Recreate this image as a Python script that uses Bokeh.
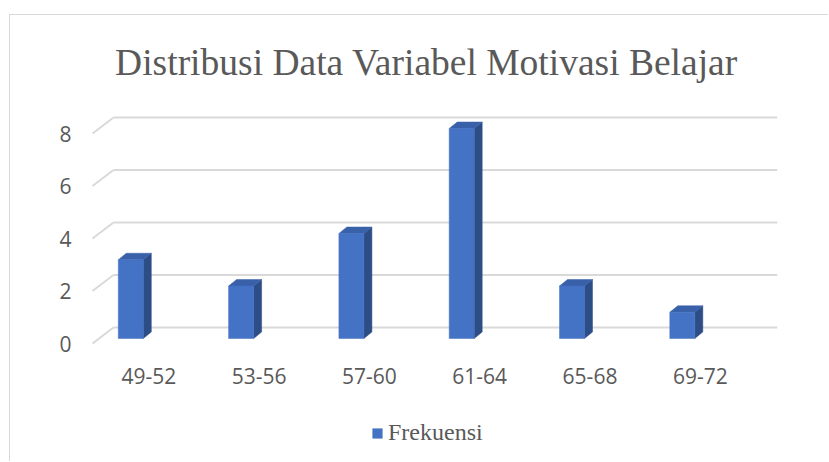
from bokeh.plotting import figure
from bokeh.models import (Range1d, LinearAxis, FixedTicker, Legend, LegendItem)
from bokeh.embed import file_html
from bokeh.resources import INLINE

# ---- data ----
categories = ["49-52", "53-56", "57-60", "61-64", "65-68", "69-72"]
frekuensi = [3, 2, 4, 8, 2, 1]
y_ticks = [0, 2, 4, 6, 8]
title_text = "Distribusi Data Variabel Motivasi Belajar"
series_name = "Frekuensi"

# ---- style constants (pixel geometry converted to data units) ----
PX = 1 / 110.3      # x data units per pixel
PY = 1 / 26.25      # y data units per pixel
FRONT = "#4472C4"
TOP = "#3961A9"
SIDE = "#2D4D86"
GRID = "#D9D9D9"
TEXT = "#595959"

bar_off = -18 * PX          # front face centre relative to category centre
bar_half = 12.5 * PX
bar_base = 5 * PY
dx, dy = 8 * PX, 6.5 * PY   # bar depth
fdx, fdy = 21 * PX, 16 * PY # floor / wall depth
wall_left = -35.3 * PX
label_drop = -32 * PY       # category labels below the floor
x_lo, x_hi = -73.3 * PX, (777 - 148.3) * PX
y_lo, y_hi = -119 * PY, 243 * PY

p = figure(width=819, height=447, output_backend="svg", toolbar_location=None,
           x_axis_type=None, y_axis_type=None,
           x_range=Range1d(x_lo, x_hi), y_range=Range1d(y_lo, y_hi),
           min_border_left=65, min_border_right=52, min_border_top=85,
           min_border_bottom=0)
p.margin = (14, 0, 0, 9)
p.styles = {"border-left": "1px solid #D9D9D9", "border-top": "1px solid #D9D9D9"}
p.outline_line_color = None
p.background_fill_color = "white"
p.border_fill_color = "white"

# title
p.title.text = title_text
p.title.align = "center"
p.title.standoff = 36
p.title.text_font = "Liberation Serif"
p.title.text_font_size = "37.5px"
p.title.text_font_style = "normal"
p.title.text_color = TEXT

# 3D gridlines: back wall horizontals and floor diagonals
front_x = wall_left - fdx
gx0 = [wall_left for _ in y_ticks]
gx1 = [x_hi for _ in y_ticks]
gy = [v + fdy for v in y_ticks]
p.segment(x0=gx0, y0=gy, x1=gx1, y1=gy, line_color=GRID, line_width=2)
p.segment(x0=[front_x for _ in y_ticks], y0=y_ticks, x1=gx0, y1=gy,
          line_color=GRID, line_width=2)

# bars
idx = list(range(len(categories)))
left = [i + bar_off - bar_half for i in idx]
right = [i + bar_off + bar_half for i in idx]
bottom = [bar_base for _ in idx]
top = [v + bar_base for v in frekuensi]

top_xs = [[l, r, r + dx, l + dx] for l, r in zip(left, right)]
top_ys = [[t, t, t + dy, t + dy] for t in top]
side_xs = [[r, r, r + dx, r + dx] for r in right]
side_ys = [[b, t, t + dy, b + dy] for b, t in zip(bottom, top)]

p.patches(xs=side_xs, ys=side_ys, fill_color=SIDE, line_color=SIDE, line_width=0.5)
p.patches(xs=top_xs, ys=top_ys, fill_color=TOP, line_color=TOP, line_width=0.5)
front = p.quad(left=left, right=right, bottom=bottom, top=top,
               fill_color=FRONT, line_color=FRONT, line_width=0.5)

# category labels along the floor
p.text(x=idx, y=[label_drop for _ in idx], text=categories,
       text_align="center", text_baseline="middle",
       text_font={"value": "Open Sans"}, text_font_size="21px",
       text_color=TEXT)

# value axis
yaxis = LinearAxis(ticker=FixedTicker(ticks=y_ticks))
yaxis.axis_line_color = None
yaxis.major_tick_line_color = None
yaxis.minor_tick_line_color = None
yaxis.major_tick_out = 0
yaxis.major_label_standoff = 4
yaxis.major_label_text_font = "Open Sans"
yaxis.major_label_text_font_size = "21px"
yaxis.major_label_text_color = TEXT
p.add_layout(yaxis, "left")

# legend (screen offsets from frame bottom-left)
legend = Legend(items=[LegendItem(label=series_name, renderers=[front])],
                orientation="horizontal", location=(296, 16),
                border_line_color=None, background_fill_alpha=0,
                label_text_font="Liberation Serif", label_text_font_size="24px",
                label_text_color=TEXT, glyph_width=12, glyph_height=12,
                label_standoff=5, padding=0, margin=0)
p.add_layout(legend)

open("out.html", "w").write(file_html(p, INLINE))
